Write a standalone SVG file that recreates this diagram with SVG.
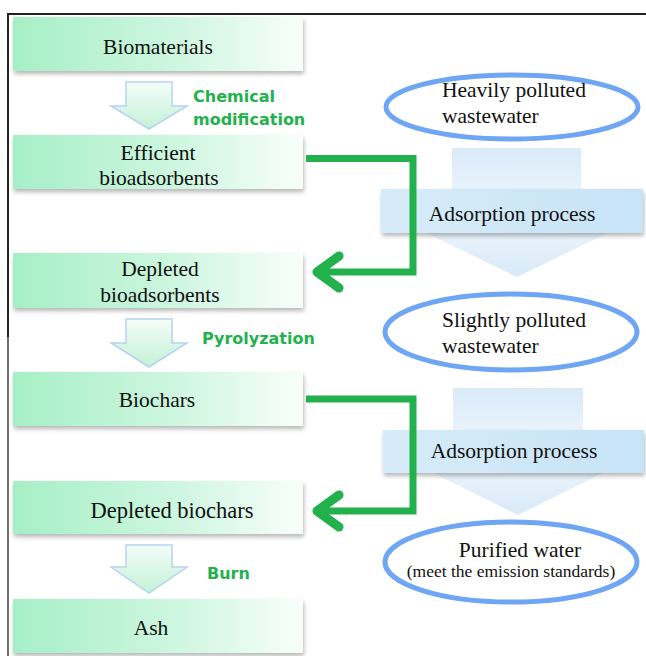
<svg xmlns="http://www.w3.org/2000/svg" width="646" height="656" viewBox="0 0 646 656">
<defs>
<linearGradient id="gBox" x1="0" y1="0" x2="1" y2="0">
<stop offset="0" stop-color="#a6efc6"/>
<stop offset="0.55" stop-color="#cdf6df"/>
<stop offset="1" stop-color="#f8fefb"/>
</linearGradient>
<linearGradient id="gSmallArrow" x1="0" y1="0" x2="0" y2="1">
<stop offset="0" stop-color="#f4fdf8"/>
<stop offset="1" stop-color="#c4f1d7"/>
</linearGradient>
<linearGradient id="gBigArrow" x1="0" y1="0" x2="0" y2="1">
<stop offset="0" stop-color="#d9eaf8"/>
<stop offset="0.5" stop-color="#f1f8fd"/>
<stop offset="1" stop-color="#d8e9f8"/>
</linearGradient>
<linearGradient id="gBand" x1="0" y1="0" x2="1" y2="0">
<stop offset="0" stop-color="#d7ecf9"/>
<stop offset="1" stop-color="#c7e3f6"/>
</linearGradient>
<filter id="shadow" x="-5%" y="-20%" width="115%" height="150%">
<feDropShadow dx="1" dy="3" stdDeviation="2" flood-color="#000" flood-opacity="0.28"/>
</filter>
</defs>
<style>
.box{fill:url(#gBox);filter:url(#shadow)}
.t{font-family:"Liberation Serif","Times New Roman",serif;font-size:21.5px;fill:#111}
.ts{font-family:"Liberation Serif","Times New Roman",serif;font-size:17.5px;fill:#111}
.c{text-anchor:middle}
.lbl{font-family:"DejaVu Sans",Verdana,sans-serif;font-weight:bold;font-size:16px;fill:#22b14c}
.sarrow{fill:url(#gSmallArrow);stroke:#b6d2f2;stroke-width:1.5}
.barrow{fill:url(#gBigArrow)}
.band{fill:url(#gBand);filter:url(#shadow)}
.ell{fill:#fff;stroke:#6ea6f4;stroke-width:5}
.gline{fill:none;stroke:#22b14c;stroke-width:7;stroke-linejoin:miter}
.ghead{fill:none;stroke:#22b14c;stroke-width:9;stroke-linecap:round;stroke-linejoin:round}
.frame{fill:none;stroke:#222}
</style>

<g id="frame">
<path class="frame" d="M8,337 V14 H646" stroke-width="2"/>
<path class="frame" d="M8,337 V656" stroke-width="1.3"/>
</g>

<g id="flow-arrows-right">
<path class="barrow" d="M452,148 H581 V215 H645 L517,277 L389,215 H452 Z"/>
<path class="barrow" d="M453,388 H583 V455 H639 L518,515 L397,455 H453 Z"/>
</g>

<g id="biomaterials">
<rect class="box" x="13" y="17" width="290" height="54"/>
<text class="t c" x="158" y="54">Biomaterials</text>
</g>
<g id="arrow-chem">
<path class="sarrow" d="M126,82 H172 V106 H187 L149,129 L111,106 H126 Z"/>
<text class="lbl" x="193" y="102">Chemical</text>
<text class="lbl" x="193" y="125">modification</text>
</g>
<g id="efficient-bioadsorbents">
<rect class="box" x="13" y="135" width="290" height="54"/>
<text class="t c" x="158" y="160">Efficient</text>
<text class="t c" x="159" y="185">bioadsorbents</text>
</g>
<g id="depleted-bioadsorbents">
<rect class="box" x="13" y="253" width="290" height="55"/>
<text class="t c" x="160" y="276">Depleted</text>
<text class="t c" x="160" y="302">bioadsorbents</text>
</g>
<g id="arrow-pyro">
<path class="sarrow" d="M126,319 H172 V343 H187 L149,367 L111,343 H126 Z"/>
<text class="lbl" x="202" y="344">Pyrolyzation</text>
</g>
<g id="biochars">
<rect class="box" x="13" y="372" width="290" height="54"/>
<text class="t c" x="157" y="407">Biochars</text>
</g>
<g id="depleted-biochars">
<rect class="box" x="13" y="481" width="290" height="53"/>
<text class="t c" x="172" y="518" style="font-size:22.5px">Depleted biochars</text>
</g>
<g id="arrow-burn">
<path class="sarrow" d="M126,545 H172 V567 H187 L149,593 L111,567 H126 Z"/>
<text class="lbl" x="207" y="579">Burn</text>
</g>
<g id="ash">
<rect class="box" x="13" y="599" width="290" height="54"/>
<text class="t c" x="151" y="635">Ash</text>
</g>

<g id="heavily-polluted">
<ellipse class="ell" cx="512" cy="107" rx="126" ry="32"/>
<text class="t" x="442" y="97">Heavily polluted</text>
<text class="t" x="442" y="123">wastewater</text>
</g>
<g id="adsorption-1">
<rect class="band" x="381" y="189" width="262" height="44"/>
<text class="t c" x="512" y="221">Adsorption process</text>
</g>
<g id="slightly-polluted">
<ellipse class="ell" cx="511" cy="332" rx="126" ry="38"/>
<text class="t" x="442" y="327">Slightly polluted</text>
<text class="t" x="442" y="353">wastewater</text>
</g>
<g id="adsorption-2">
<rect class="band" x="383" y="430" width="261" height="43"/>
<text class="t c" x="514" y="458">Adsorption process</text>
</g>
<g id="purified-water">
<ellipse class="ell" cx="511" cy="562" rx="126" ry="40"/>
<text class="t c" x="520" y="557">Purified water</text>
<text class="ts c" x="511" y="577">(meet the emission standards)</text>
</g>

<g id="connectors">
<path class="gline" d="M306,158.5 H413 V272 H318"/>
<path class="ghead" d="M339,256 L317,272 L339,288"/>
<path class="gline" d="M306,399 H413 V511 H318"/>
<path class="ghead" d="M339,495 L317,511 L339,527"/>
</g>
</svg>
